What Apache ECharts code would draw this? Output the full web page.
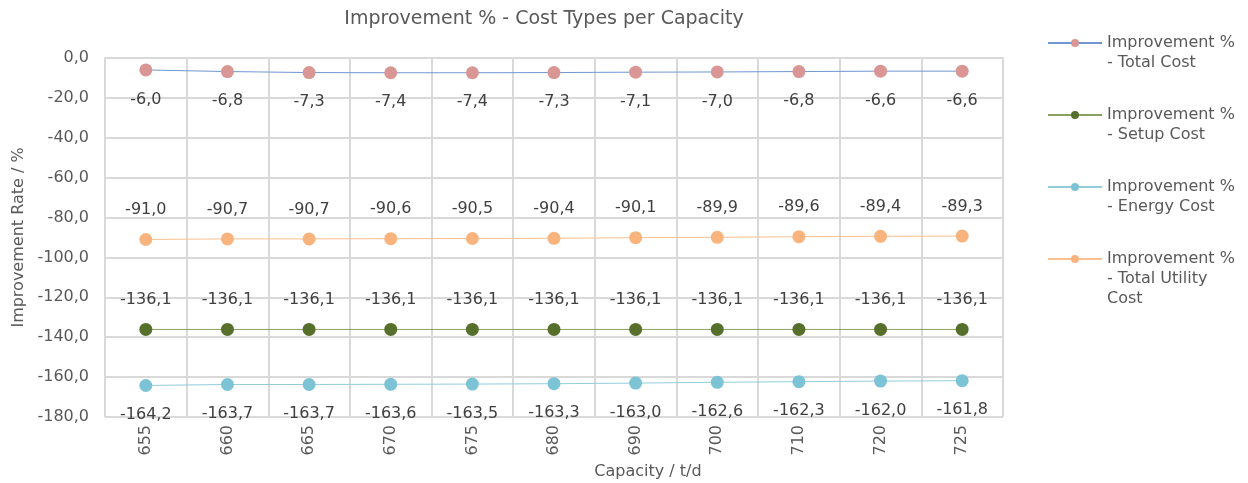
<!DOCTYPE html>
<html>
<head>
<meta charset="utf-8">
<script src="https://cdn.jsdelivr.net/npm/echarts@6/dist/echarts.min.js"></script>
<style>
  html, body { margin: 0; padding: 0; background: #fff; }
  #chart { width: 1248px; height: 483px; }
</style>
</head>
<body>
<div id="chart"></div>
<script>
// Capacities (t/d) on the category axis
const capacities = ['655', '660', '665', '670', '675', '680', '690', '700', '710', '720', '725'];

// Improvement % per cost type
const totalCost = [-6.0, -6.8, -7.3, -7.4, -7.4, -7.3, -7.1, -7.0, -6.8, -6.6, -6.6];
const setupCost = [-136.1, -136.1, -136.1, -136.1, -136.1, -136.1, -136.1, -136.1, -136.1, -136.1, -136.1];
const energyCost = [-164.2, -163.7, -163.7, -163.6, -163.5, -163.3, -163.0, -162.6, -162.3, -162.0, -161.8];
const utilityCost = [-91.0, -90.7, -90.7, -90.6, -90.5, -90.4, -90.1, -89.9, -89.6, -89.4, -89.3];

const seriesNames = [
  'Improvement % - Total Cost',
  'Improvement % - Setup Cost',
  'Improvement % - Energy Cost',
  'Improvement % - Total Utility Cost'
];
// Wrapped legend lines; leading blank lines keep the icon level with the first line
const legendTexts = [
  '\nImprovement %\n- Total Cost',
  '\nImprovement %\n- Setup Cost',
  '\nImprovement %\n- Energy Cost',
  '\n\nImprovement %\n- Total Utility\nCost'
];

const FONT = 'DejaVu Sans, Verdana, sans-serif';
const fmt = v => v.toFixed(1).replace('.', ',');

function lineSeries(name, data, lineColor, dotColor, labelPos) {
  return {
    name: name,
    type: 'line',
    data: data,
    symbol: 'circle',
    symbolSize: 13,
    lineStyle: { color: lineColor, width: 1 },
    itemStyle: { color: dotColor },
    label: {
      show: true,
      position: labelPos,
      distance: 15,
      color: '#404040',
      fontFamily: FONT,
      fontSize: 16,
      formatter: p => fmt(p.value)
    },
    emphasis: { disabled: true }
  };
}

// One legend block per series, stacked on the right
const legendTops = [13, 85, 157, 209];
const legends = seriesNames.map((n, i) => ({
  data: [n],
  orient: 'vertical',
  left: 1047,
  top: legendTops[i],
  padding: 0,
  itemWidth: 54,
  itemHeight: 10,
  formatter: () => legendTexts[i],
  textStyle: {
    color: '#595959',
    fontFamily: FONT,
    fontSize: 16,
    lineHeight: 20
  }
}));

const chart = echarts.init(document.getElementById('chart'), null, { renderer: 'canvas' });
chart.setOption({
  animation: false,
  backgroundColor: '#ffffff',
  title: {
    text: 'Improvement % - Cost Types per Capacity',
    left: 539,
    textAlign: 'center',
    top: 5,
    textStyle: { color: '#595959', fontFamily: FONT, fontSize: 19, fontWeight: 'normal' }
  },
  legend: legends,
  grid: { left: 105, right: 245, top: 58, bottom: 66, containLabel: false, outerBoundsMode: 'none' },
  xAxis: {
    type: 'category',
    data: capacities,
    boundaryGap: true,
    name: 'Capacity / t/d',
    nameLocation: 'middle',
    nameGap: 44,
    nameTextStyle: { color: '#595959', fontFamily: FONT, fontSize: 16, padding: [0, 0, 0, 188] },
    axisLine: { lineStyle: { color: '#D9D9D9', width: 2 } },
    axisTick: { show: false },
    axisLabel: { rotate: 90, margin: 8, color: '#595959', fontFamily: FONT, fontSize: 16, interval: 0 },
    splitLine: { show: true, interval: 0, lineStyle: { color: '#D9D9D9', width: 2 } }
  },
  yAxis: {
    type: 'value',
    min: -180,
    max: 0,
    interval: 20,
    name: 'Improvement Rate / %',
    nameLocation: 'middle',
    nameGap: 78,
    nameTextStyle: { color: '#595959', fontFamily: FONT, fontSize: 16 },
    axisLine: { show: false },
    axisTick: { show: false },
    axisLabel: { margin: 16, color: '#595959', fontFamily: FONT, fontSize: 16, formatter: v => fmt(v) },
    splitLine: { show: true, lineStyle: { color: '#D9D9D9', width: 2 } }
  },
  series: [
    lineSeries(seriesNames[0], totalCost, '#6f97d1', '#D99694', 'bottom'),
    lineSeries(seriesNames[1], setupCost, '#8aa05e', '#56702c', 'top'),
    lineSeries(seriesNames[2], energyCost, '#92CDDC', '#7CC3D6', 'bottom'),
    lineSeries(seriesNames[3], utilityCost, '#FAC08F', '#F9B47E', 'top')
  ]
});
</script>
</body>
</html>
